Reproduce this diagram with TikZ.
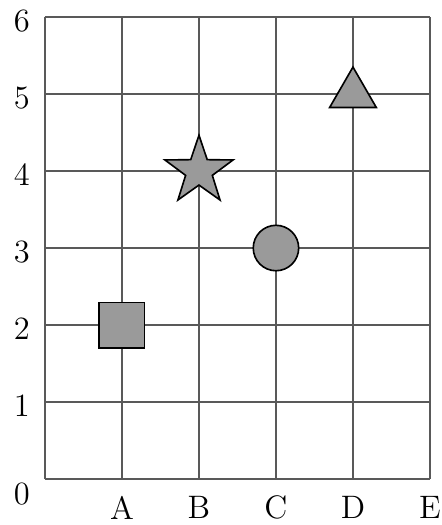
\documentclass[tikz,border=0pt]{standalone}
\definecolor{gridgray}{HTML}{595959}
\definecolor{markgray}{HTML}{9A9A9A}
\usetikzlibrary{shapes.geometric}
\tikzset{
    gridline/.style={
        draw=gridgray,
        line width=0.75pt
    },
    marker/.style={
        draw=black,
        fill=markgray,
        line width=0.6pt,
        inner sep=0pt,
        outer sep=0pt
    },
    axislabel/.style={
        font=\large,
        inner sep=0pt
    }
}
\begin{document}
\begin{tikzpicture}
        \useasboundingbox (-0.584,-0.597) rectangle (5.156,6.221);
        % grid
        \foreach \i in {0,...,5}
            \draw[gridline] (\i,0) -- (\i,6);
        \foreach \j in {0,...,6}
            \draw[gridline] (0,\j) -- (5,\j);

        % labels
        \node[axislabel] (yzero) at (-0.3,-0.2) {0};
        \foreach \j in {1,...,6}
            \node[axislabel] (ylab\j) at (-0.3,\j-0.05) {\j};
        \foreach \c [count=\i] in {A,B,C,D,E}
            \node[axislabel] (xlab\c) at (\i,-0.37) {\c};

        % markers
        \node[marker,rectangle,minimum size=0.59cm] (square) at (1,2) {};
        \node[marker,star,star points=5,star point ratio=2.55,minimum size=0.93cm] (star) at (2,4) {};
        \node[marker,circle,minimum size=0.59cm] (circle) at (3,3) {};
        \node[marker,regular polygon,regular polygon sides=3,minimum size=0.7cm] (triangle) at (4,5) {};
    \end{tikzpicture}
\end{document}
